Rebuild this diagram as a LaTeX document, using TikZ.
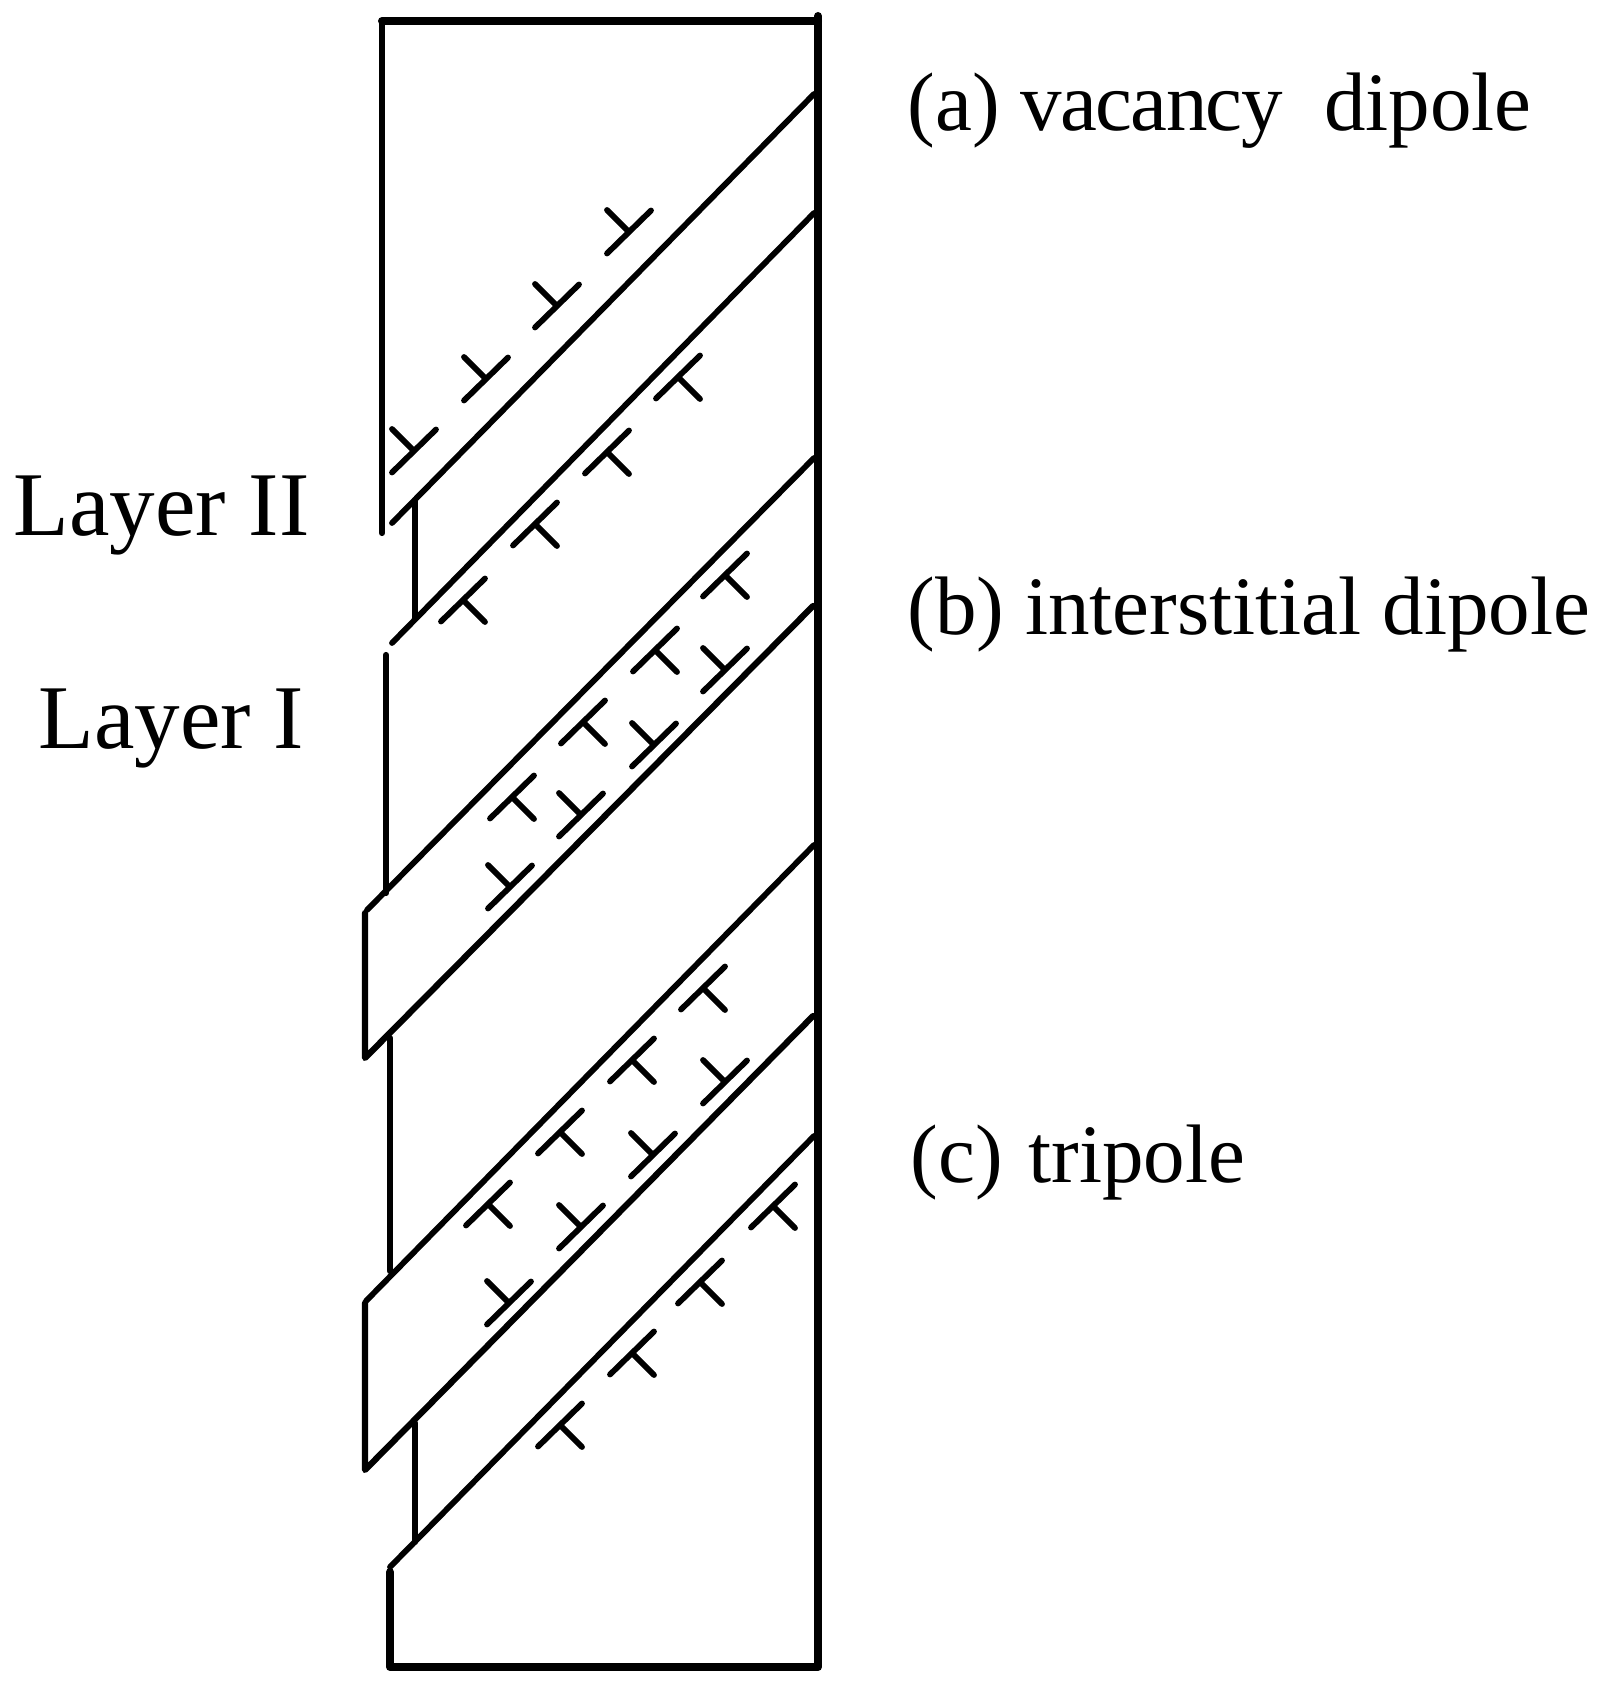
\documentclass[tikz,border=0pt]{standalone}
\usepackage{fontspec}
\setmainfont{Liberation Serif}
\tikzset{
	wall/.style={line width=0.62mm, line cap=round, line join=round},
	frame/.style={line width=0.8mm, line cap=round, line join=round},
	slip/.style={line width=0.58mm, line cap=round},
	label/.style={anchor=base west, inner sep=0pt, font=\fontsize{23.6}{28}\selectfont},
	layerlabel/.style={anchor=base west, inner sep=0pt, font=\fontsize{25.9}{30}\selectfont}
}
\def\disldown(#1,#2){\draw[slip] (#1-22,#2+21.5) -- (#1+22,#2-21.5) (#1,#2) -- (#1+22,#2+22);}
\def\dislup(#1,#2){\draw[slip] (#1-22,#2+21.5) -- (#1+22,#2-21.5) (#1,#2) -- (#1-22,#2-22);}

\begin{document}
\begin{tikzpicture}[x=0.01cm, y=-0.01cm]
	\useasboundingbox (0, 0) rectangle (1604, 1689);

	%%%%% FRAME %%%%%
	\draw[frame] (382, 21) -- (818, 21);
	\draw[frame] (818, 16) -- (818, 1667) -- (390, 1667) -- (390, 1572);

	%%%%% LEFT EDGE %%%%%
	\draw[wall] (382, 21) -- (382, 533);
	\draw[wall] (415, 500) -- (415, 618);
	\draw[wall] (386, 655) -- (386, 893);
	\draw[wall] (365, 913) -- (365, 1058) -- (813, 606);
	\draw[wall] (390, 1038) -- (390, 1271);
	\draw[wall] (365, 1303) -- (365, 1470) -- (813, 1016);
	\draw[wall] (415, 1423) -- (415, 1542);

	%%%%% SLIP LINES %%%%%
	\draw[slip] (392, 523) -- (814, 94);
	\draw[slip] (392, 643) -- (814, 213);
	\draw[slip] (367, 910) -- (814, 458);
	\draw[slip] (366, 1301) -- (814, 845);
	\draw[slip] (390, 1567) -- (814, 1136);

	%%%%% DISLOCATIONS %%%%%
	\dislup(414, 451);
	\dislup(486, 379);
	\dislup(557, 306);
	\dislup(629, 232);

	\disldown(463, 600);
	\disldown(535, 524);
	\disldown(607, 452);
	\disldown(678, 377);

	\disldown(725, 575);
	\disldown(655, 650);
	\disldown(583, 722);
	\disldown(512, 797);

	\dislup(725, 670);
	\dislup(654, 745);
	\dislup(581, 815);
	\dislup(510, 887);

	\disldown(703, 988);
	\disldown(632, 1060);
	\disldown(560, 1132);
	\disldown(488, 1204);

	\dislup(725, 1082);
	\dislup(653, 1155);
	\dislup(581, 1227);
	\dislup(509, 1303);

	\disldown(773, 1206);
	\disldown(700, 1282);
	\disldown(632, 1353);
	\disldown(560, 1425);

	%%%%% LABELS %%%%%
	\node[label] (vacancy) at (907, 131) {(a) {\addfontfeature{LetterSpace=-2}vacancy}\ \ dipole};
	\node[label] (interstitial) at (907, 635) {(b) interstitial dipole};
	\node[label] (tripole) at (910, 1182) {(c)\hspace{0.5mm} tripole};
	\node[layerlabel] (layertwo) at (13, 536) {Layer II};
	\node[layerlabel] (layerone) at (38, 748) {Layer I};
\end{tikzpicture}
\end{document}
